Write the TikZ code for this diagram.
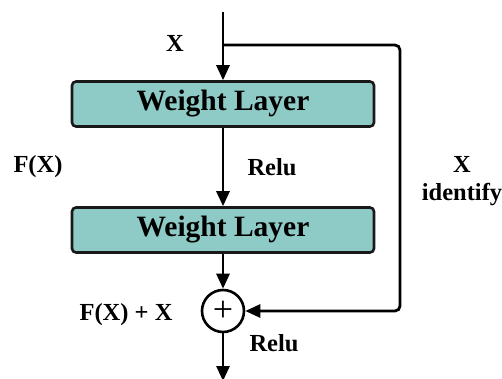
\documentclass[tikz,border=0pt]{standalone}
\usepackage{fontspec}
\setmainfont{Liberation Serif}
\usetikzlibrary{arrows.meta,positioning,calc}
\definecolor{layerteal}{RGB}{142,203,198}
\tikzset{
  wbox/.style={draw=black!90,fill=layerteal,rounded corners=4pt,line width=2.6pt,minimum width=302pt,minimum height=45pt,inner sep=0pt,font=\fontsize{29.5}{30}\selectfont\bfseries},
  addnode/.style={draw,circle,line width=2.6pt,minimum size=42pt,inner sep=0pt,font=\fontsize{36}{36}\selectfont},
  lab/.style={font=\fontsize{24.5}{28}\selectfont\bfseries,align=center},
  flow/.style={-{Triangle[length=15pt,width=13pt]},line width=2.8pt},
}

\begin{document}
\begin{tikzpicture}[x=1pt,y=-1pt]
  \useasboundingbox (0,0) rectangle (502,379);
  % layers
  \node[wbox] (wl1) at (223,104) {Weight Layer};
  \node[wbox] (wl2) at (223,230) {Weight Layer};
  \node[addnode] (sum) at (223,311) {+};
  \coordinate (in) at (223,12);
  \coordinate (split) at (223,45);
  \coordinate (skipx) at (400,180);
  \coordinate (out) at (223,381);
  % main path
  \draw[flow] (in) -- (wl1);
  \draw[flow] (wl1) -- (wl2);
  \draw[flow] (wl2) -- (sum);
  \draw[flow] (sum) -- (out);
  % identity shortcut
  \draw[flow,rounded corners=5pt] (split) -| (skipx) |- (sum);
  % labels
  \node[lab] (xin) at (175,43) {X};
  \node[lab] (fx) at (38,167) {F(X)};
  \node[lab] (relu1) at (272,167) {Relu};
  \node[lab] (ident) at (462,181) {X\\identify};
  \node[lab] (fxx) at (126,315) {F(X) + X};
  \node[lab] (relu2) at (274,343) {Relu};
\end{tikzpicture}
\end{document}
